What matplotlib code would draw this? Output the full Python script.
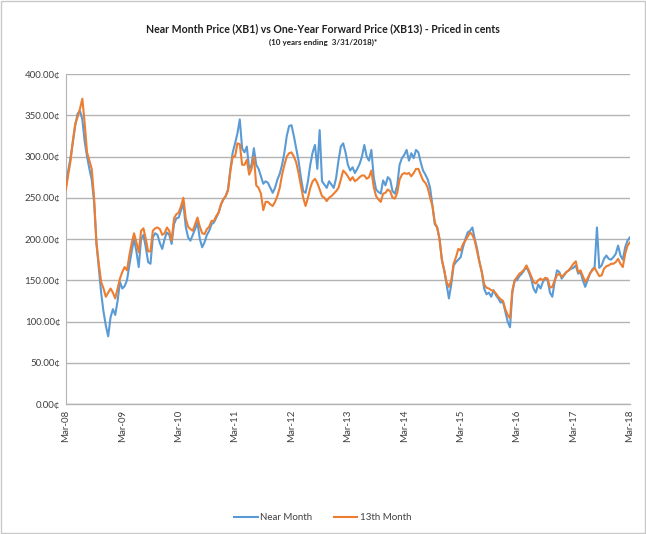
"""
Near month (XB1) vs one-year forward (XB13) gasoline price, 10 years to 3/31/2018.
Values read off the published chart at half-month steps.
"""

import numpy as np
import matplotlib
matplotlib.use("Agg")
import matplotlib.pyplot as plt
from matplotlib.patches import Rectangle

# ── Data ──────────────────────────────────────────────────────────────
# half-month steps starting Mar-08 (index 0) up to Mar-18 (index 240)
STEPS_PER_MONTH = 2

TICK_LABELS = ["Mar-08", "Mar-09", "Mar-10", "Mar-11", "Mar-12", "Mar-13",
               "Mar-14", "Mar-15", "Mar-16", "Mar-17", "Mar-18"]

near_month = [
    263, 283, 299, 318, 338, 352, 355, 345, 318, 300, 285, 272, 245, 195, 165, 135, 112, 95, 82, 105, 115, 108, 125, 148,
    140, 143, 150, 168, 185, 200, 185, 166, 200, 205, 190, 172, 170, 202, 207, 205, 195, 188, 200, 208, 205, 194, 218, 225,
    226, 235, 243, 215, 202, 198, 205, 212, 220, 200, 190, 196, 205, 210, 218, 220, 226, 232, 242, 248, 252, 260, 285, 305,
    316, 328, 345, 310, 305, 312, 285, 290, 310, 290, 285, 276, 267, 270, 268, 262, 256, 262, 272, 279, 290, 305, 325, 337,
    338, 325, 310, 295, 275, 258, 256, 270, 290, 305, 314, 285, 332, 270, 266, 262, 270, 266, 262, 274, 295, 312, 316, 305,
    290, 283, 287, 280, 285, 291, 300, 314, 300, 295, 308, 275, 260, 257, 255, 271, 265, 275, 272, 258, 255, 265, 290, 298,
    302, 308, 295, 304, 298, 308, 305, 293, 283, 278, 272, 262, 240, 218, 214, 200, 175, 162, 145, 128, 145, 168, 172, 175,
    178, 190, 200, 208, 210, 214, 200, 188, 172, 160, 140, 133, 135, 130, 138, 132, 128, 123, 124, 112, 100, 93, 135, 150,
    150, 155, 158, 162, 166, 160, 152, 140, 135, 145, 140, 148, 152, 150, 135, 130, 148, 162, 160, 152, 156, 160, 162, 164,
    165, 168, 158, 160, 150, 142, 150, 158, 163, 166, 214, 165, 168, 176, 180, 176, 175, 178, 182, 192, 180, 175, 190, 198,
    202,
]

month_13 = [
    260, 278, 295, 320, 340, 348, 358, 370, 340, 305, 295, 285, 250, 195, 170, 148, 140, 130, 135, 140, 135, 128, 140, 152,
    160, 166, 162, 180, 195, 207, 196, 184, 210, 213, 200, 185, 185, 210, 213, 214, 212, 205, 207, 214, 210, 198, 225, 230,
    232, 240, 250, 225, 215, 212, 210, 218, 226, 215, 207, 206, 212, 215, 222, 222, 228, 232, 242, 248, 252, 259, 282, 300,
    300, 316, 315, 290, 290, 296, 278, 285, 300, 265, 262, 255, 235, 245, 245, 242, 240, 245, 252, 262, 278, 290, 300, 304,
    305, 300, 293, 280, 265, 250, 240, 250, 262, 270, 273, 268, 260, 252, 250, 246, 250, 252, 255, 258, 262, 272, 283, 280,
    276, 271, 275, 270, 272, 275, 277, 277, 273, 275, 283, 263, 252, 248, 245, 255, 256, 260, 258, 250, 249, 256, 272, 278,
    280, 279, 280, 276, 280, 285, 285, 278, 271, 268, 262, 250, 240, 220, 214, 200, 175, 162, 148, 142, 150, 170, 178, 188,
    186, 194, 198, 203, 208, 205, 198, 185, 172, 160, 145, 141, 140, 138, 137, 134, 130, 127, 125, 115, 108, 104, 138, 150,
    154, 158, 160, 163, 168, 162, 155, 148, 146, 150, 152, 150, 153, 152, 141, 142, 150, 156, 158, 154, 157, 160, 162, 166,
    170, 173, 160, 162, 155, 148, 152, 158, 162, 165, 160, 155, 156, 164, 167, 168, 170, 170, 172, 176, 170, 166, 182, 192,
    196,
]

BLUE   = "#5B9BD5"
ORANGE = "#ED7D31"
GRID   = "#B3B3B3"
TEXT   = "#404040"
FONT   = ["Lato", "DejaVu Sans"]

# ── Plot ──────────────────────────────────────────────────────────────
plt.rcParams["font.family"] = FONT

fig = plt.figure(figsize=(6.46, 5.34), dpi=100)
ax = fig.add_axes([0.102, 0.2434, 0.873, 0.618])

x = np.arange(len(near_month)) / STEPS_PER_MONTH
ax.plot(x, near_month, color=BLUE, lw=1.5, label="Near Month", zorder=3)
ax.plot(x, month_13, color=ORANGE, lw=1.5, label="13th Month", zorder=4)

ax.set_xlim(0, 120)
ax.set_ylim(0, 400)
ax.set_yticks(range(0, 401, 50))
ax.set_yticklabels([f"{v:.2f}\u00a2" for v in range(0, 401, 50)], fontsize=7, color=TEXT)
ax.set_xticks(range(0, 121, 12))
ax.set_xticklabels(TICK_LABELS, rotation=90, fontsize=7, color=TEXT)
ax.tick_params(axis="both", length=0, pad=4)

ax.grid(axis="y", color=GRID, lw=1.0)
ax.set_axisbelow(True)
for side in ("top", "right"):
    ax.spines[side].set_visible(False)
ax.spines["left"].set_color(GRID)
ax.spines["bottom"].set_color(GRID)
ax.spines["bottom"].set_linewidth(1.0)

fig.text(0.5, 0.947, "Near Month Price (XB1) vs One-Year Forward Price (XB13) - Priced in cents",
         ha="center", va="center", fontsize=7.6, fontweight="bold", color="#202020")
fig.text(0.5, 0.92, "(10 years ending  3/31/2018)*",
         ha="center", va="center", fontsize=5.8, fontweight="bold", color="#202020")

fig.legend(loc="center", bbox_to_anchor=(0.5, 0.03), ncol=2, frameon=False,
           fontsize=7, handlelength=2.4, handletextpad=0.3, columnspacing=2.2,
           labelcolor=TEXT)

fig.patches.append(Rectangle((0.001, 0.001), 0.997, 0.997, transform=fig.transFigure,
                             fill=False, edgecolor="#C8C8C8", lw=1.0))

fig.savefig("out.png", dpi=100)
